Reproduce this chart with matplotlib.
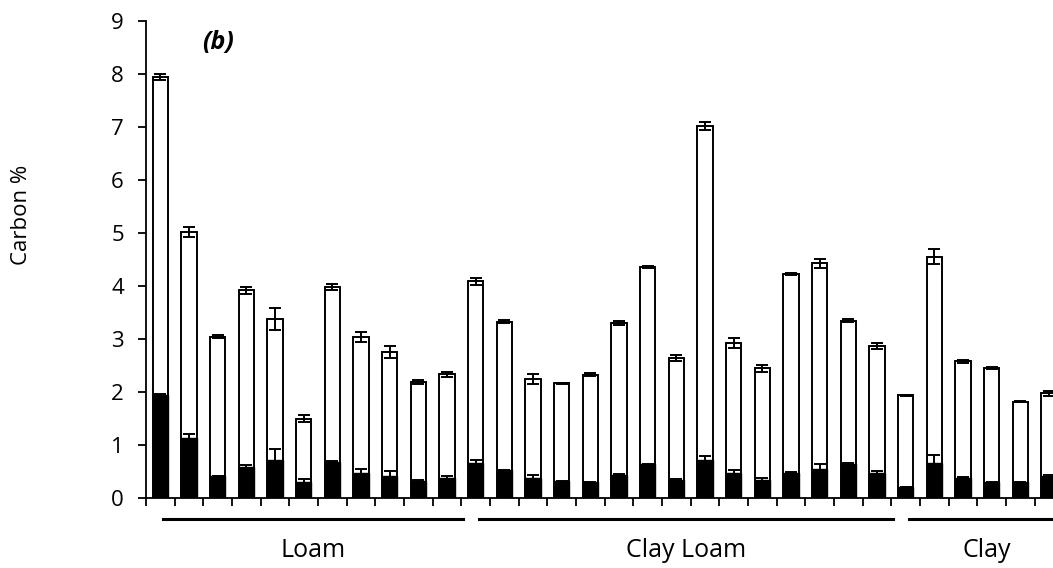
import matplotlib
matplotlib.use("Agg")
import matplotlib.pyplot as plt
import numpy as np

plt.rcParams["font.family"] = ["Open Sans", "DejaVu Sans"]

# total carbon (white bars) and inorganic carbon (black bars), % with SE
total_c = [7.94, 5.01, 3.04, 3.91, 3.37, 1.49, 3.97, 3.03, 2.75, 2.18, 2.33,
           4.08, 3.32, 2.24, 2.16, 2.32, 3.29, 4.36, 2.63, 7.01, 2.92, 2.44,
           4.22, 4.42, 3.34, 2.86,
           1.93, 4.55, 2.57, 2.45, 1.81, 1.97]
total_err = [0.05, 0.09, 0.02, 0.07, 0.20, 0.07, 0.06, 0.09, 0.11, 0.04, 0.05,
             0.06, 0.03, 0.09, 0.01, 0.03, 0.04, 0.02, 0.06, 0.08, 0.09, 0.06,
             0.02, 0.08, 0.03, 0.06,
             0.01, 0.14, 0.02, 0.02, 0.01, 0.05]
inorg_c = [1.93, 1.12, 0.40, 0.58, 0.71, 0.30, 0.67, 0.47, 0.40, 0.31, 0.38,
           0.66, 0.52, 0.38, 0.31, 0.29, 0.43, 0.63, 0.33, 0.71, 0.46, 0.33,
           0.47, 0.54, 0.63, 0.46,
           0.20, 0.66, 0.38, 0.29, 0.29, 0.40]
inorg_err = [0.03, 0.08, 0.01, 0.03, 0.20, 0.05, 0.03, 0.07, 0.10, 0.02, 0.02,
             0.05, 0.01, 0.05, 0.01, 0.01, 0.02, 0.01, 0.03, 0.07, 0.06, 0.04,
             0.01, 0.09, 0.02, 0.04,
             0.01, 0.14, 0.01, 0.01, 0.01, 0.02]

groups = ["Loam", "Clay Loam", "Clay"]
group_sizes = [11, 15, 6]

x = np.arange(len(total_c)) + 0.5
bar_w = 0.54

fig = plt.figure(figsize=(10.53, 5.68), dpi=100)
ax = fig.add_axes([0.1387, 0.1238, 0.8613, 0.8398])

ax.bar(x, total_c, width=bar_w, color="white", edgecolor="black",
       linewidth=1.4, zorder=2)
ax.errorbar(x, total_c, yerr=total_err, fmt="none", ecolor="black",
            elinewidth=1.4, capsize=4.2, capthick=1.4, zorder=3)
ax.bar(x, inorg_c, width=bar_w, color="black", edgecolor="black",
       linewidth=1.0, zorder=4)
ax.errorbar(x, inorg_c, yerr=inorg_err, fmt="none", ecolor="black",
            elinewidth=1.4, capsize=4.2, capthick=1.4, zorder=5)

ax.set_xlim(0, 31.64)
ax.set_ylim(0, 9)
ax.set_yticks(range(0, 10))
ax.set_xticks(range(0, 32))
ax.set_xticklabels([])
ax.tick_params(axis="y", direction="out", length=6, width=1.3,
               labelsize=16, pad=10)
ax.tick_params(axis="x", direction="out", length=6, width=1.3)
for side in ("top", "right"):
    ax.spines[side].set_visible(False)
for side in ("left", "bottom"):
    ax.spines[side].set_linewidth(1.3)

# soil texture group underlines and labels
trans = ax.get_xaxis_transform()
start = 0
for name, n in zip(groups, group_sizes):
    x0, x1 = start + 0.6, start + n + 0.05
    ax.plot([x0, x1], [-0.045, -0.045], color="black", lw=2.2,
            transform=trans, clip_on=False)
    ax.text((x0 + x1) / 2, -0.11, name, transform=trans, ha="center",
            va="center", fontsize=18)
    start += n

ax.text(2.5, 8.58, "(b)", fontsize=18, fontweight="bold", style="italic",
        ha="center", va="center")

fig.text(22 / 1053, 1 - 215 / 568, "Carbon %", rotation=90, fontsize=16,
         ha="center", va="center")

fig.savefig("out.png", dpi=100)
